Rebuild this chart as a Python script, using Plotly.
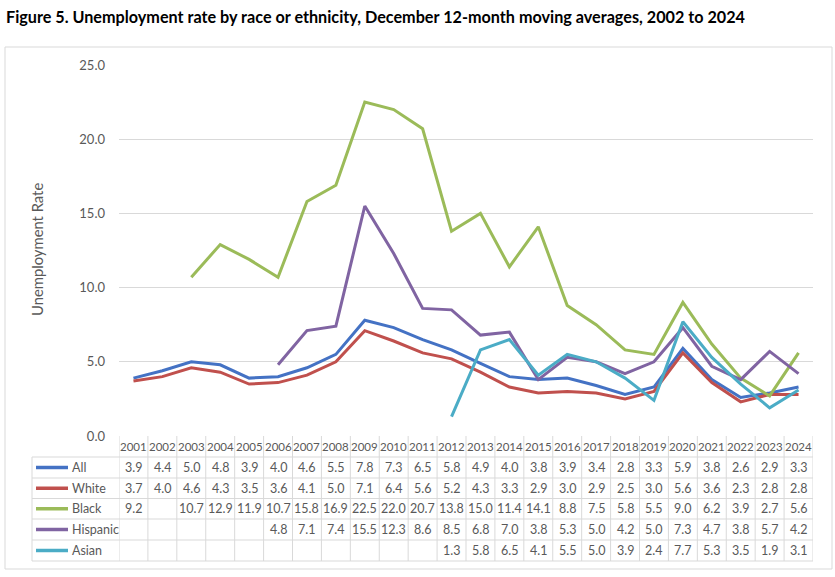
import plotly.graph_objects as go

years = list(range(2001, 2025))
all_rate = [3.9, 4.4, 5.0, 4.8, 3.9, 4.0, 4.6, 5.5, 7.8, 7.3, 6.5, 5.8, 4.9, 4.0, 3.8, 3.9, 3.4, 2.8, 3.3, 5.9, 3.8, 2.6, 2.9, 3.3]
white = [3.7, 4.0, 4.6, 4.3, 3.5, 3.6, 4.1, 5.0, 7.1, 6.4, 5.6, 5.2, 4.3, 3.3, 2.9, 3.0, 2.9, 2.5, 3.0, 5.6, 3.6, 2.3, 2.8, 2.8]
black = [9.2, None, 10.7, 12.9, 11.9, 10.7, 15.8, 16.9, 22.5, 22.0, 20.7, 13.8, 15.0, 11.4, 14.1, 8.8, 7.5, 5.8, 5.5, 9.0, 6.2, 3.9, 2.7, 5.6]
hispanic = [None, None, None, None, None, 4.8, 7.1, 7.4, 15.5, 12.3, 8.6, 8.5, 6.8, 7.0, 3.8, 5.3, 5.0, 4.2, 5.0, 7.3, 4.7, 3.8, 5.7, 4.2]
asian = [None] * 11 + [1.3, 5.8, 6.5, 4.1, 5.5, 5.0, 3.9, 2.4, 7.7, 5.3, 3.5, 1.9, 3.1]

series_names = ["All", "White", "Black", "Hispanic", "Asian"]
series_values = [all_rate, white, black, hispanic, asian]
colors = ["#4472C4", "#C0504D", "#9BBB59", "#8064A2", "#4BACC6"]
y_ticks = [0, 5, 10, 15, 20, 25]

title = "Figure 5. Unemployment rate by race or ethnicity, December 12-month moving averages, 2002 to 2024"
y_title = "Unemployment Rate"

W, H = 835, 577
FONT = "Lato"
GRAY = "#595959"
LINE = "#d9d9d9"


def px(x):
    return x / W


def py(y):
    return 1 - y / H


fig = go.Figure()
for name, vals, col in zip(series_names, series_values, colors):
    fig.add_trace(go.Scatter(x=years, y=vals, mode="lines", name=name,
                             line=dict(color=col, width=3), connectgaps=False,
                             showlegend=False))

plot_left, plot_right = 119, 813
plot_top, plot_bottom = 65, 436

fig.update_layout(
    width=W, height=H, margin=dict(l=0, r=0, t=0, b=0, pad=0, autoexpand=False),
    paper_bgcolor="white", plot_bgcolor="white",
    font=dict(family=FONT, color=GRAY, size=13),
    xaxis=dict(domain=[px(plot_left), px(plot_right)], range=[years[0] - 0.5, years[-1] + 0.5],
               showticklabels=False, showgrid=False, zeroline=False, showline=False, fixedrange=True,
               automargin=False),
    yaxis=dict(domain=[py(plot_bottom), py(plot_top)], range=[0, 25], tickvals=y_ticks,
               tickformat=".1f", showgrid=True, gridcolor=LINE, gridwidth=1,
               zeroline=False, showline=False, ticks="", ticklabelstandoff=13,
               tickfont=dict(size=13, color=GRAY), automargin=False),
)

shapes = []
annotations = []

# outer frame
shapes.append(dict(type="rect", xref="paper", yref="paper", x0=px(5), x1=px(832), y0=py(569), y1=py(47),
                   line=dict(color=LINE, width=1)))

# title
annotations.append(dict(text="<b>" + title + "</b>", xref="paper", yref="paper", x=px(4), y=py(17),
                        xanchor="left", yanchor="middle", showarrow=False,
                        font=dict(family=FONT, size=16.2, color="black")))
# y title
annotations.append(dict(text=y_title, xref="paper", yref="paper", x=px(37), y=py(250), textangle=-90,
                        xanchor="center", yanchor="middle", showarrow=False,
                        font=dict(family=FONT, size=14.8, color=GRAY)))

# data table
header_top, header_bot = 436, 457
row_bounds = [457, 478, 498.5, 519, 540, 561]
legend_left = 32

for i in range(len(years) + 1):
    xv = years[0] - 0.5 + i
    shapes.append(dict(type="line", xref="x", yref="paper", x0=xv, x1=xv, y0=py(header_top), y1=py(row_bounds[-1]),
                       line=dict(color=LINE, width=1)))
shapes.append(dict(type="line", xref="paper", yref="paper", x0=px(legend_left), x1=px(legend_left),
                   y0=py(row_bounds[0]), y1=py(row_bounds[-1]), line=dict(color=LINE, width=1)))
for yb in row_bounds:
    shapes.append(dict(type="line", xref="paper", yref="paper", x0=px(legend_left), x1=px(plot_right),
                       y0=py(yb), y1=py(yb), line=dict(color=LINE, width=1)))

for yr in years:
    annotations.append(dict(text=str(yr), xref="x", yref="paper", x=yr, y=py((header_top + header_bot) / 2),
                            xanchor="center", yanchor="middle", showarrow=False,
                            font=dict(size=11.5, color=GRAY)))

for r, (name, vals, col) in enumerate(zip(series_names, series_values, colors)):
    yc = (row_bounds[r] + row_bounds[r + 1]) / 2
    shapes.append(dict(type="line", xref="paper", yref="paper", x0=px(36), x1=px(68), y0=py(yc), y1=py(yc),
                       line=dict(color=col, width=3.5)))
    annotations.append(dict(text=name, xref="paper", yref="paper", x=px(69.5), y=py(yc),
                            xanchor="left", yanchor="middle", showarrow=False,
                            font=dict(size=12.5, color=GRAY)))
    for yr, v in zip(years, vals):
        if v is None:
            continue
        annotations.append(dict(text=f"{v:.1f}", xref="x", yref="paper", x=yr, y=py(yc),
                                xanchor="center", yanchor="middle", showarrow=False,
                                font=dict(size=12.5, color=GRAY)))

fig.update_layout(shapes=shapes, annotations=annotations)
post = ("var d=document.getElementById('{plot_id}');"
        "d.style.position='absolute';d.style.left='0px';d.style.top='0px';"
        "document.body.style.margin='0';document.documentElement.style.overflow='hidden';"
        "document.body.style.overflow='hidden';")
fig.write_html("out.html", config={"displayModeBar": False}, post_script=post)
